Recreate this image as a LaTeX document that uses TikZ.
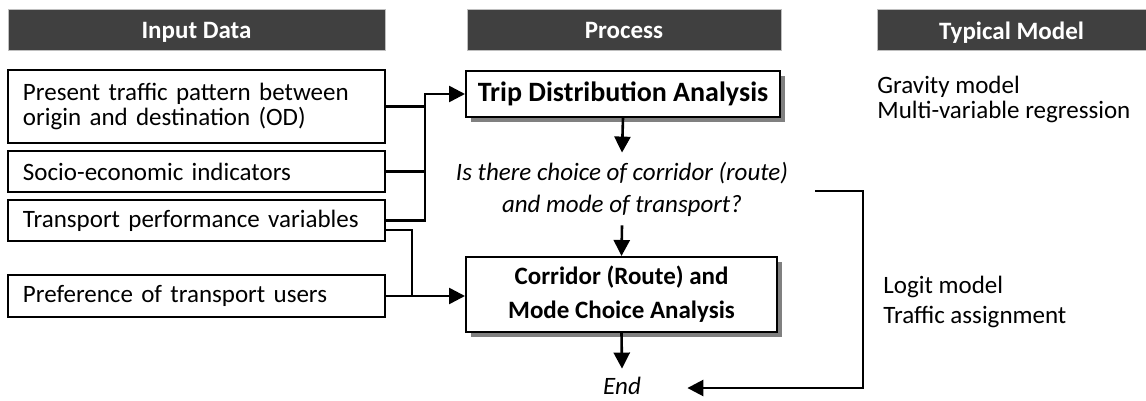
\documentclass[tikz,border=0pt]{standalone}
\usepackage{fontspec}
\setmainfont{Carlito}
\usepackage{tikz}
\usetikzlibrary{arrows.meta,positioning,shadows}
\definecolor{headgray}{HTML}{404040}
\definecolor{rimgray}{HTML}{BFBFBF}
\definecolor{shadegray}{HTML}{808080}
\tikzstyle{header}=[rectangle, fill=headgray, draw=rimgray, line width=0.5pt, text=white, font=\bfseries, minimum height=20.5pt, inner sep=0pt, text depth=0pt]
\tikzstyle{inbox}=[rectangle, draw=black, line width=1pt, text width=173.5pt, inner xsep=7.5pt, inner ysep=0pt, align=left, minimum height=20.5pt]
\tikzstyle{procbox}=[rectangle, draw=black, fill=white, line width=1pt, font=\bfseries, inner sep=0pt, drop shadow={shadow xshift=2.5pt, shadow yshift=-2.5pt, fill=shadegray, opacity=1}]
\tikzstyle{conn}=[line width=1.3pt]
\tikzset{>={Triangle[length=8pt,width=8pt]}}

\begin{document}
\fontsize{12.5}{12.5}\selectfont
\begin{tikzpicture}[x=0.5pt, y=-0.5pt]
      \useasboundingbox (0,0) rectangle (1146,401);

      % column heads
      \draw node at (196.5,30.5) [header, minimum width=188.5pt] (hin) {Input Data};
      \draw node at (624,30.5) [header, minimum width=157pt] (hproc) {Process};
      \draw node at (1011.5,30.5) [header, minimum width=134.5pt] (hmod) {Typical Model};

      % input data
      \draw node at (196.5,106.5) [inbox, minimum height=36.5pt] (od) {Present traffic pattern between\\origin and destination (OD)};
      \draw node at (196.5,171.5) [inbox] (socio) {Socio-economic indicators};
      \draw node at (196.5,220.5) [inbox] (perf) {Transport performance variables};
      \draw node at (196.5,296) [inbox, minimum height=21pt] (pref) {Preference of transport users};

      % process
      \draw node at (623,94) [procbox, minimum width=157pt, minimum height=23pt, font=\bfseries\fontsize{14}{14}\selectfont] (trip) {Trip Distribution Analysis};
      \draw node at (622,189) [align=center, minimum height=36pt, inner sep=0pt, font=\itshape\fontsize{12.5}{16}\selectfont] (q) {Is there choice of corridor (route)\\and mode of transport?};
      \draw node at (621.5,294.5) [procbox, minimum width=155.5pt, minimum height=37.5pt, align=center, font=\bfseries\fontsize{12.5}{17}\selectfont] (corr) {Corridor (Route) and\\Mode Choice Analysis};
      \draw node at (622,386) [font=\itshape, minimum width=65pt, minimum height=17pt, inner sep=0pt] (end) {End};

      % typical models
      \draw node at (877,99) [anchor=west, align=left, inner sep=0pt] (grav) {Gravity model\\Multi-variable regression};
      \draw node at (883,302) [anchor=west, align=left, inner sep=0pt, font=\fontsize{12.5}{15}\selectfont] (logit) {Logit model\\Traffic assignment};

      % connectors
      \coordinate (j) at (425,94);
      \coordinate (k) at (412,230);
      \coordinate (b1) at (815,191);
      \coordinate (b2) at (863,388);

      \draw [conn,->] (perf.east) -| (j) -- (trip.west);
      \draw [conn] (od.east) -- (od.east -| j);
      \draw [conn] (socio.east) -- (socio.east -| j);
      \draw [conn] (perf.east |- k) -- (k) -- (k |- pref.east);
      \draw [conn,->] (pref.east) -- (pref.east -| corr.west);

      \draw [conn,->] (trip.south) -- (q.north);
      \draw [conn,->] (q.south) -- (corr.north);
      \draw [conn,->] (corr.south) -- (end.north);
      \draw [conn,->] (b1) -| (b2) -- (b2 -| end.east);
\end{tikzpicture}
\end{document}
